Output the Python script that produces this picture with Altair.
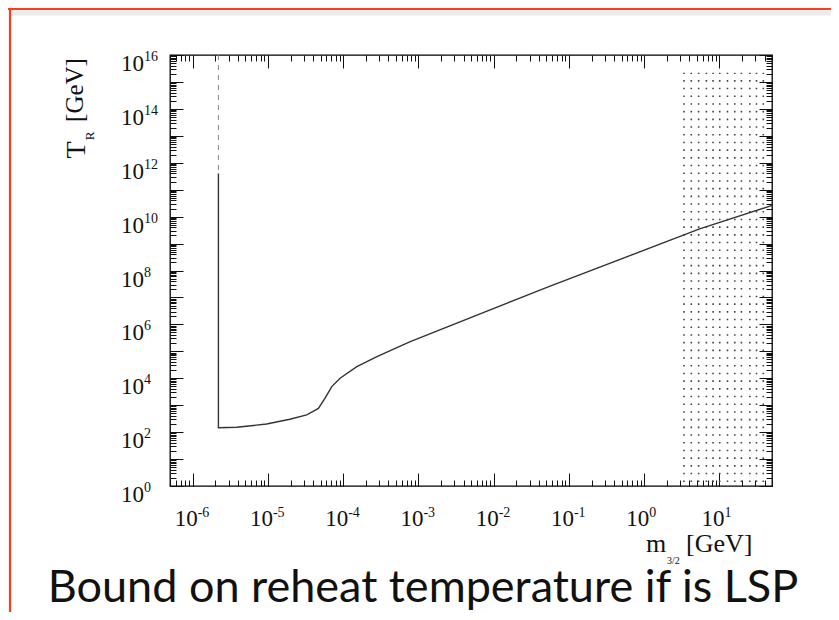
import altair as alt
import pandas as pd

# ---------------- data ----------------
# main bound curve (solid): m_3/2 [GeV] vs T_R [GeV]
m_curve = [2.2e-6, 2.2e-6, 3.83e-6, 9.6e-6, 1.96e-5, 3.28e-5, 4.69e-5, 5.75e-5,
           7.06e-5, 9.1e-5, 1.52e-4, 2.81e-4, 7.8e-4, 5.2e-2, 5.46, 50.0]
T_curve = [4e11, 145, 151, 200, 302, 437, 759, 1820,
           4900, 1.0e4, 2.7e4, 6.3e4, 2.3e5, 2.4e7, 3.5e9, 2.6e10]
# faint dashed continuation of the vertical bound
m_dashed = [2.2e-6, 2.2e-6]
T_dashed = [1e16, 4e11]
# dotted (excluded) band on the right
m_band_cols = [3.38, 4.23, 5.30, 6.71, 8.24, 10.1, 12.8, 16.0, 19.6, 25.4, 31.1, 38.3]
T_band_low = 1.4
T_band_high = 2.2e15
# tick labels
x_tick_values = [1e-6, 1e-5, 1e-4, 1e-3, 1e-2, 1e-1, 1e0, 1e1]
x_tick_exps = ["-6", "-5", "-4", "-3", "-2", "-1", "0", "1"]
y_tick_values = [1e0, 1e2, 1e4, 1e6, 1e8, 1e10, 1e12, 1e14, 1e16]
y_tick_exps = ["0", "2", "4", "6", "8", "10", "12", "14", "16"]
y_decades = [1e0, 1e1, 1e2, 1e3, 1e4, 1e5, 1e6, 1e7, 1e8, 1e9, 1e10, 1e11,
             1e12, 1e13, 1e14, 1e15, 1e16]

W, H = 602, 431
SERIF = "Liberation Serif"
INK = "#111111"

curve_df = pd.DataFrame({"m": m_curve, "T": T_curve, "i": list(range(len(m_curve)))})
dashed_df = pd.DataFrame({"m": m_dashed, "T": T_dashed, "i": [0, 1]})
band_df = pd.DataFrame({"m": m_band_cols, "lo": [T_band_low] * len(m_band_cols),
                        "hi": [T_band_high] * len(m_band_cols)})
xlab_df = pd.DataFrame({"v": x_tick_values, "e": x_tick_exps})
ylab_df = pd.DataFrame({"v": y_tick_values, "e": y_tick_exps})
one = alt.Data(values=[{"a": 1}])

xs = alt.Scale(type="log", domain=[5e-7, 50], nice=False)
ys = alt.Scale(type="log", domain=[1, 1e16], nice=False)


def tick_axis(orient, offset, size, values=None):
    kw = dict(orient=orient, offset=offset, labels=False, domain=False, grid=False,
              title="", tickSize=size, tickColor=INK, tickWidth=1)
    if values is not None:
        kw["values"] = values
    else:
        kw["tickCount"] = 100
    return alt.Axis(**kw)


# solid curve: carries the inward minor ticks of bottom and left frame sides
curve = alt.Chart(curve_df).mark_line(color="#333333", strokeWidth=1.4).encode(
    x=alt.X("m:Q", scale=xs, axis=tick_axis("top", -H, 6)),
    y=alt.Y("T:Q", scale=ys, axis=tick_axis("right", -W, 6)),
    order="i:Q",
)

# dashed: carries the inward major ticks of bottom and left frame sides
dashed = alt.Chart(dashed_df).mark_line(color="#8a8a8a", strokeWidth=1,
                                        strokeDash=[5, 5]).encode(
    x=alt.X("m:Q", scale=xs, axis=tick_axis("top", -H, 13, x_tick_values)),
    y=alt.Y("T:Q", scale=ys, axis=tick_axis("right", -W, 13, y_decades)),
    order="i:Q",
)

# dotted band: carries the inward minor ticks of top and right frame sides
band = alt.Chart(band_df).mark_rule(color="#444444", strokeWidth=1.6,
                                    strokeDash=[1.6, 6.1]).encode(
    x=alt.X("m:Q", scale=xs, axis=tick_axis("bottom", -H, 6)),
    y=alt.Y("lo:Q", scale=ys, axis=tick_axis("left", -W, 6)),
    y2="hi:Q",
)

# x tick labels "10" + superscript exponent
xlab = alt.Chart(xlab_df).mark_text(font=SERIF, fontSize=23, align="right",
                                    baseline="alphabetic", dx=5, color=INK).encode(
    x=alt.X("v:Q", scale=xs, axis=tick_axis("bottom", -H, 13, x_tick_values)),
    y=alt.value(H + 40),
    text=alt.value("10"),
)
xexp = alt.Chart(xlab_df).mark_text(font=SERIF, fontSize=14, align="left",
                                    baseline="alphabetic", dx=5, color=INK).encode(
    x=alt.X("v:Q", scale=xs, axis=None),
    y=alt.value(H + 31),
    text="e:N",
)

# y tick labels
ylab = alt.Chart(ylab_df).mark_text(font=SERIF, fontSize=23, align="right",
                                    baseline="alphabetic", dy=16, color=INK).encode(
    y=alt.Y("v:Q", scale=ys, axis=tick_axis("left", -W, 13, y_decades)),
    x=alt.value(-26),
    text=alt.value("10"),
)
yexp = alt.Chart(ylab_df).mark_text(font=SERIF, fontSize=14, align="left",
                                    baseline="alphabetic", dy=6, color=INK).encode(
    y=alt.Y("v:Q", scale=ys, axis=None),
    x=alt.value(-26),
    text="e:N",
)


def label(txt, x, y, size, font=SERIF, angle=0, align="left", baseline="alphabetic",
          color=INK):
    return alt.Chart(one).mark_text(font=font, fontSize=size, angle=angle, align=align,
                                    baseline=baseline, color=color).encode(
        x=alt.value(x), y=alt.value(y), text=alt.value(txt))


# axis titles
t_T = label("T", -93, 95, 28, angle=270, align="center", baseline="middle")
t_R = label("R", -80, 81, 13, angle=270, align="center", baseline="middle")
t_G = label("[GeV]", -95, 35, 25, angle=270, align="center", baseline="middle")
x_m = label("m", 476, 497, 26)
x_sub = label("3/2", 497, 509, 10)
x_G = label("[GeV]", 516, 497, 26)

caption = label("Bound on reheat temperature if is LSP", 253, 547, 45,
                font="Lato", align="center")

# slide border (top + left) and soft shadow
shadow = alt.Chart(one).mark_rule(color="#ececec", strokeWidth=5).encode(
    x=alt.value(-160), x2=alt.value(661), y=alt.value(-42))
top_border = alt.Chart(one).mark_rule(color="#ff3b1c", strokeWidth=2.2).encode(
    x=alt.value(-162), x2=alt.value(661), y=alt.value(-46))
left_border = alt.Chart(one).mark_rule(color="#ff3b1c", strokeWidth=2.2).encode(
    x=alt.value(-160), y=alt.value(-46), y2=alt.value(H + 126))

chart = alt.layer(
    shadow, top_border, left_border,
    band, dashed, curve, xlab, xexp, ylab, yexp,
    t_T, t_R, t_G, x_m, x_sub, x_G, caption,
).resolve_axis(x="independent", y="independent").properties(
    width=W, height=H,
    autosize=alt.AutoSizeParams(type="none"),
    padding={"left": 162, "top": 47, "right": 59, "bottom": 126},
    background="white",
).configure_view(stroke="#000000", strokeWidth=1.3)

chart.save("out.html", embed_options={"renderer": "svg", "actions": False})
